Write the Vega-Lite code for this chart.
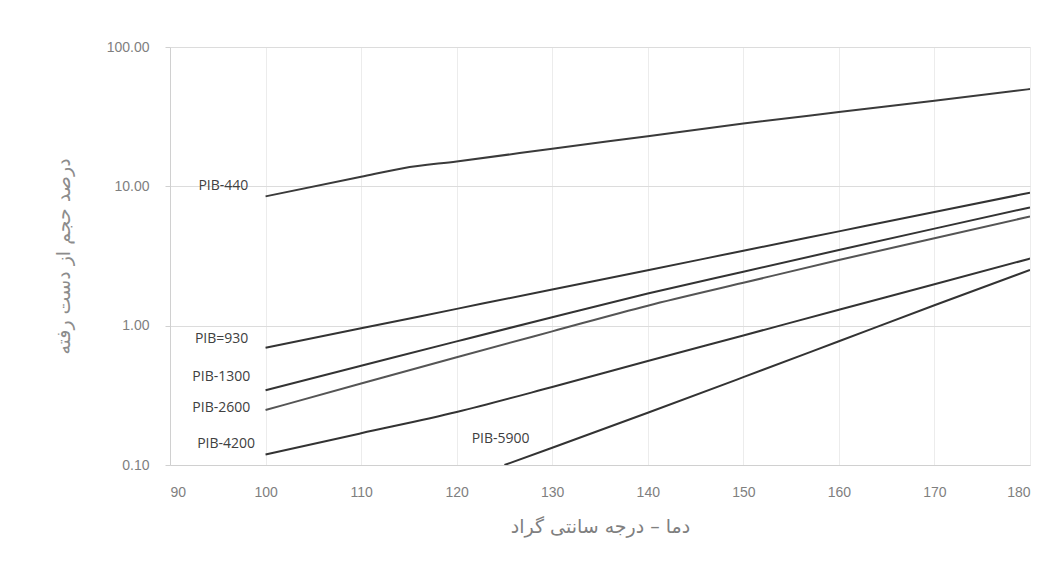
{
  "$schema": "https://vega.github.io/schema/vega-lite/v6.json",
  "autosize": "none",
  "width": 860,
  "height": 418,
  "padding": {"left": 170, "top": 47, "right": 33, "bottom": 116},
  "background": "white",
  "config": {
    "view": {"stroke": null},
    "font": "DejaVu Sans"
  },
  "datasets": {
    "curves": [
      {"series": "PIB-440", "t": 100, "v": 8.47},
      {"series": "PIB-440", "t": 110, "v": 11.7},
      {"series": "PIB-440", "t": 114.4, "v": 13.5},
      {"series": "PIB-440", "t": 120, "v": 15.1},
      {"series": "PIB-440", "t": 130, "v": 18.6},
      {"series": "PIB-440", "t": 140, "v": 22.9},
      {"series": "PIB-440", "t": 150, "v": 28.2},
      {"series": "PIB-440", "t": 160, "v": 34.1},
      {"series": "PIB-440", "t": 170, "v": 41.2},
      {"series": "PIB-440", "t": 180, "v": 49.9},
      {"series": "PIB=930", "t": 100, "v": 0.695},
      {"series": "PIB=930", "t": 110, "v": 0.957},
      {"series": "PIB=930", "t": 120, "v": 1.32},
      {"series": "PIB=930", "t": 130, "v": 1.82},
      {"series": "PIB=930", "t": 140, "v": 2.5},
      {"series": "PIB=930", "t": 150, "v": 3.45},
      {"series": "PIB=930", "t": 160, "v": 4.75},
      {"series": "PIB=930", "t": 170, "v": 6.54},
      {"series": "PIB=930", "t": 180, "v": 9.0},
      {"series": "PIB-1300", "t": 100, "v": 0.344},
      {"series": "PIB-1300", "t": 110, "v": 0.515},
      {"series": "PIB-1300", "t": 120, "v": 0.771},
      {"series": "PIB-1300", "t": 130, "v": 1.15},
      {"series": "PIB-1300", "t": 140, "v": 1.7},
      {"series": "PIB-1300", "t": 150, "v": 2.44},
      {"series": "PIB-1300", "t": 160, "v": 3.49},
      {"series": "PIB-1300", "t": 170, "v": 4.97},
      {"series": "PIB-1300", "t": 180, "v": 7.06},
      {"series": "PIB-2600", "t": 100, "v": 0.248},
      {"series": "PIB-2600", "t": 110, "v": 0.384},
      {"series": "PIB-2600", "t": 120, "v": 0.594},
      {"series": "PIB-2600", "t": 130, "v": 0.91},
      {"series": "PIB-2600", "t": 140, "v": 1.39},
      {"series": "PIB-2600", "t": 150, "v": 2.03},
      {"series": "PIB-2600", "t": 160, "v": 2.96},
      {"series": "PIB-2600", "t": 170, "v": 4.24},
      {"series": "PIB-2600", "t": 180, "v": 6.08},
      {"series": "PIB-4200", "t": 100, "v": 0.119},
      {"series": "PIB-4200", "t": 110, "v": 0.169},
      {"series": "PIB-4200", "t": 120, "v": 0.24},
      {"series": "PIB-4200", "t": 130, "v": 0.363},
      {"series": "PIB-4200", "t": 140, "v": 0.558},
      {"series": "PIB-4200", "t": 150, "v": 0.851},
      {"series": "PIB-4200", "t": 160, "v": 1.3},
      {"series": "PIB-4200", "t": 170, "v": 1.98},
      {"series": "PIB-4200", "t": 180, "v": 3.03},
      {"series": "PIB-5900", "t": 125, "v": 0.1},
      {"series": "PIB-5900", "t": 130, "v": 0.133},
      {"series": "PIB-5900", "t": 140, "v": 0.237},
      {"series": "PIB-5900", "t": 150, "v": 0.427},
      {"series": "PIB-5900", "t": 160, "v": 0.773},
      {"series": "PIB-5900", "t": 170, "v": 1.4},
      {"series": "PIB-5900", "t": 180, "v": 2.51}
    ],
    "labels": [
      {"series": "PIB-440", "t": 98.2, "v": 10.0, "anchor": "right"},
      {"series": "PIB=930", "t": 98.2, "v": 0.80, "anchor": "right"},
      {"series": "PIB-1300", "t": 98.4, "v": 0.43, "anchor": "right"},
      {"series": "PIB-2600", "t": 98.4, "v": 0.257, "anchor": "right"},
      {"series": "PIB-4200", "t": 98.9, "v": 0.142, "anchor": "right"},
      {"series": "PIB-5900", "t": 124.6, "v": 0.154, "anchor": "center"}
    ]
  },
  "layer": [
    {
      "data": {"name": "curves"},
      "mark": {"type": "line", "strokeWidth": 2, "interpolate": "monotone", "clip": true},
      "encoding": {
        "x": {
          "field": "t", "type": "quantitative",
          "scale": {"domain": [90, 180], "nice": false, "zero": false},
          "axis": {
            "values": [90, 100, 110, 120, 130, 140, 150, 160, 170, 180],
            "title": "دما – درجه سانتی گراد",
            "titleFont": "DejaVu Sans",
            "titleFontSize": 19,
            "titleFontWeight": "normal",
            "titleColor": "#7f7f7f",
            "titlePadding": 18,
            "labelFont": "Liberation Sans",
            "labelFontSize": 14,
            "labelColor": "#7f7f7f",
            "labelPadding": 20,
            "tickSize": 0,
            "domainColor": "#d0d0d0",
            "gridColor": "#ececec",
            "grid": true
          }
        },
        "y": {
          "field": "v", "type": "quantitative",
          "scale": {"type": "log", "domain": [0.1, 100], "nice": false},
          "axis": {
            "values": [0.1, 1, 10, 100],
            "format": ".2f",
            "title": "درصد حجم از دست رفته",
            "titleFont": "DejaVu Sans",
            "titleFontSize": 19,
            "titleFontWeight": "normal",
            "titleColor": "#8c8c8c",
            "titleX": -107,
            "titleY": 209,
            "titleAngle": -90,
            "titleBaseline": "middle",
            "labelFont": "Liberation Sans",
            "labelFontSize": 14,
            "labelColor": "#7f7f7f",
            "labelPadding": 16,
            "tickSize": 5,
            "tickColor": "#d0d0d0",
            "domainColor": "#d0d0d0",
            "gridColor": "#dcdcdc",
            "grid": true
          }
        },
        "detail": {"field": "series"},
        "color": {
          "field": "series", "type": "nominal", "legend": null,
          "scale": {
            "domain": ["PIB-440", "PIB=930", "PIB-1300", "PIB-2600", "PIB-4200", "PIB-5900"],
            "range": ["#3a3a3a", "#333333", "#333333", "#555555", "#333333", "#333333"]
          }
        }
      }
    },
    {
      "data": {"name": "labels"},
      "transform": [{"filter": "datum.anchor == 'right'"}],
      "mark": {"type": "text", "align": "right", "baseline": "middle", "font": "Open Sans", "fontSize": 14, "color": "#404040"},
      "encoding": {
        "x": {"field": "t", "type": "quantitative"},
        "y": {"field": "v", "type": "quantitative"},
        "text": {"field": "series"}
      }
    },
    {
      "data": {"name": "labels"},
      "transform": [{"filter": "datum.anchor == 'center'"}],
      "mark": {"type": "text", "align": "center", "baseline": "middle", "font": "Open Sans", "fontSize": 14, "color": "#404040"},
      "encoding": {
        "x": {"field": "t", "type": "quantitative"},
        "y": {"field": "v", "type": "quantitative"},
        "text": {"field": "series"}
      }
    }
  ]
}
